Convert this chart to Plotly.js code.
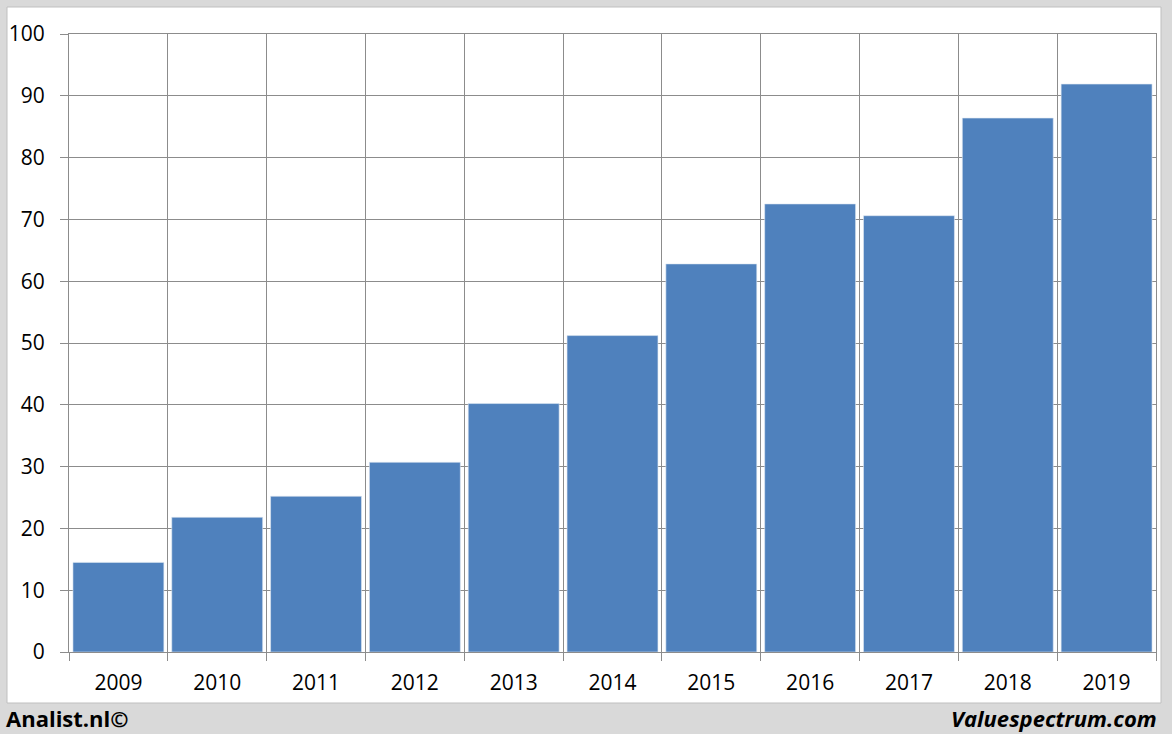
<!DOCTYPE html>
<html>
<head>
<meta charset="utf-8">
<script src="https://cdn.plot.ly/plotly-3.0.1.min.js"></script>
<style>
html,body{margin:0;padding:0;background:#d9d9d9;}
#chart{width:1172px;height:734px;}
</style>
</head>
<body>
<div id="chart"></div>
<script>
var years = ["2009","2010","2011","2012","2013","2014","2015","2016","2017","2018","2019"];
var values = [14.5, 21.8, 25.2, 30.7, 40.2, 51.2, 62.8, 72.5, 70.6, 86.4, 91.9];
var yTicks = [0,10,20,30,40,50,60,70,80,90,100];
var leftLabel = "Analist.nl©";
var rightLabel = "Valuespectrum.com";

var W = 1172, H = 734;
var mL = 69, mR = 16, mT = 34, mB = 82;
var pw = W - mL - mR, ph = H - mT - mB;
function px(x){ return (x - mL) / pw; }
function py(y){ return (H - mB - y) / ph; }

var FONT = "Open Sans, Liberation Sans, sans-serif";

var trace = {
  type: "bar",
  x: years,
  y: values,
  marker: {color: "#4f81bd", line: {color: "#dfe7f2", width: 0.6}},
  hoverinfo: "x+y"
};

var layout = {
  width: W, height: H,
  margin: {l: mL, r: mR, t: mT, b: mB, pad: 0},
  paper_bgcolor: "#d9d9d9",
  plot_bgcolor: "rgba(0,0,0,0)",
  bargap: 0.08,
  showlegend: false,
  font: {family: FONT, color: "#000000", size: 21},
  xaxis: {
    type: "category",
    tickson: "boundaries",
    showgrid: true,
    gridcolor: "#8c8c8c",
    gridwidth: 1,
    ticks: "outside",
    ticklen: 8,
    tickcolor: "#8c8c8c",
    ticklabelstandoff: 12,
    showline: true,
    linecolor: "#8c8c8c",
    mirror: true,
    tickfont: {size: 21, family: FONT},
    fixedrange: true
  },
  yaxis: {
    range: [0, 100],
    tickvals: yTicks,
    ticktext: yTicks.map(String),
    showgrid: true,
    gridcolor: "#8c8c8c",
    gridwidth: 1,
    ticks: "outside",
    ticklen: 8,
    tickcolor: "#8c8c8c",
    ticklabelstandoff: 11,
    showline: true,
    linecolor: "#8c8c8c",
    mirror: true,
    zeroline: false,
    tickfont: {size: 21, family: FONT},
    fixedrange: true
  },
  shapes: [{
    type: "rect", xref: "paper", yref: "paper", layer: "below",
    x0: px(7), x1: px(1161), y0: py(703), y1: py(7),
    fillcolor: "#ffffff", line: {color: "#bfbfbf", width: 1}
  }],
  annotations: [
    {text: "<b>" + leftLabel + "</b>", xref: "paper", yref: "paper",
     x: px(4), y: py(718), xanchor: "left", yanchor: "middle", showarrow: false,
     font: {size: 22, family: FONT, color: "#000"}},
    {text: "<b><i>" + rightLabel + "</i></b>", xref: "paper", yref: "paper",
     x: px(1159), y: py(718), xanchor: "right", yanchor: "middle", showarrow: false,
     font: {size: 22, family: FONT, color: "#000"}}
  ]
};

Plotly.newPlot("chart", [trace], layout, {displayModeBar: false, staticPlot: true});
</script>
</body>
</html>
